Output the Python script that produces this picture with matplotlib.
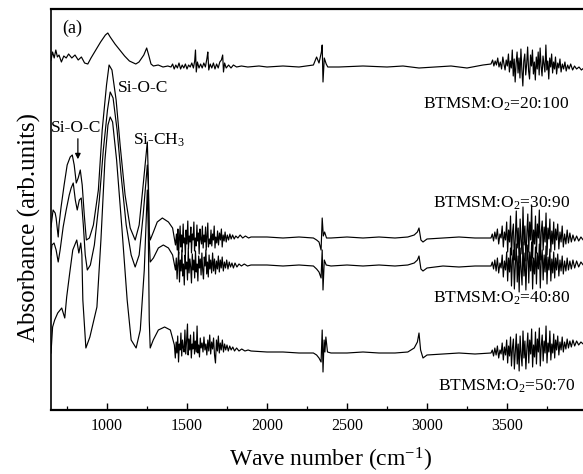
import numpy as np
import matplotlib
matplotlib.use("Agg")
import matplotlib.pyplot as plt

plt.rcParams["font.family"] = ["Liberation Serif", "DejaVu Serif"]
plt.rcParams["mathtext.fontset"] = "custom"
plt.rcParams["mathtext.rm"] = "Liberation Serif"
plt.rcParams["mathtext.it"] = "Liberation Serif:italic"

# FTIR spectra: [wave number (cm-1), absorbance incl. offset (arb. units)]
spec_20_100 = [
    [650, 350], [660, 358], [670, 352], [680, 360], [690, 353], [700, 355], [715, 348], [730, 354],
    [745, 352], [760, 356], [780, 352], [800, 355], [820, 350], [840, 353], [860, 347], [880, 346],
    [900, 352], [930, 360], [960, 368], [990, 375], [1005, 377], [1020, 373], [1050, 366], [1080, 360],
    [1110, 354], [1140, 349], [1180, 346], [1200, 348], [1230, 355], [1248, 362], [1262, 354], [1275, 346],
    [1290, 344], [1320, 345], [1350, 343], [1380, 344], [1400, 343], [1410, 346], [1420, 341], [1430, 345],
    [1440, 342], [1450, 347], [1460, 341], [1470, 345], [1480, 342], [1490, 346], [1500, 341], [1510, 345],
    [1520, 343], [1530, 347], [1540, 342], [1548, 349], [1553, 360], [1558, 338], [1565, 348], [1575, 342],
    [1585, 346], [1595, 342], [1605, 347], [1615, 343], [1625, 352], [1630, 358], [1636, 340], [1645, 346],
    [1655, 342], [1665, 347], [1675, 341], [1685, 346], [1695, 342], [1705, 348], [1715, 350], [1723, 355],
    [1728, 338], [1735, 347], [1745, 342], [1760, 345], [1775, 342], [1790, 345], [1810, 343], [1840, 344],
    [1880, 343], [1950, 344], [2000, 343], [2100, 344], [2200, 343], [2290, 345], [2310, 353], [2325, 347],
    [2340, 358], [2345, 365], [2350, 328], [2358, 352], [2370, 346], [2380, 343], [2450, 343], [2600, 344],
    [2750, 343], [2850, 344], [2950, 342], [3050, 343], [3150, 344], [3250, 342], [3350, 345], [3400, 346],
    [3410, 350], [3418, 344], [3426, 349], [3434, 345], [3442, 352], [3450, 343], [3458, 348], [3466, 341],
    [3474, 353], [3481, 346], [3488, 340], [3495, 350], [3502, 344], [3509, 356], [3515, 338], [3521, 349],
    [3527, 342], [3533, 360], [3539, 334], [3545, 351], [3551, 328], [3557, 347], [3563, 358], [3569, 337],
    [3575, 352], [3581, 332], [3587, 361], [3593, 340], [3599, 324], [3605, 349], [3611, 356], [3617, 335],
    [3623, 346], [3629, 363], [3635, 339], [3641, 331], [3647, 355], [3653, 344], [3659, 360], [3665, 336],
    [3671, 348], [3677, 330], [3683, 353], [3689, 341], [3695, 358], [3701, 335], [3707, 362], [3713, 344],
    [3719, 334], [3725, 354], [3731, 346], [3737, 338], [3743, 365], [3749, 340], [3755, 349], [3761, 331],
    [3767, 352], [3773, 343], [3779, 356], [3785, 337], [3791, 348], [3797, 341], [3803, 353], [3810, 336],
    [3817, 347], [3824, 342], [3831, 351], [3838, 338], [3846, 346], [3854, 341], [3862, 348], [3870, 339],
    [3879, 345], [3888, 341], [3898, 346], [3910, 340], [3922, 344], [3935, 341], [3950, 343], [3965, 340],
    [3980, 342], [4000, 340],
]

spec_30_90 = [
    [650, 183], [663, 200], [676, 197], [682, 192], [695, 173], [700, 185], [713, 203], [732, 225],
    [751, 245], [770, 253], [783, 255], [795, 245], [808, 227], [820, 232], [833, 240], [845, 225],
    [858, 195], [871, 170], [890, 172], [915, 185], [946, 220], [970, 280], [997, 325], [1013, 345],
    [1031, 340], [1057, 310], [1082, 265], [1113, 215], [1145, 182], [1176, 170], [1201, 185], [1226, 225],
    [1252, 268], [1258, 235], [1264, 178], [1270, 170], [1290, 178], [1314, 188], [1346, 192], [1384, 188],
    [1410, 182], [1428, 165], [1434, 176], [1439, 160], [1443, 181], [1447, 155], [1452, 170], [1457, 184],
    [1461, 163], [1466, 175], [1470, 158], [1476, 186], [1480, 167], [1485, 172], [1490, 154], [1494, 180],
    [1499, 166], [1505, 189], [1509, 161], [1514, 174], [1519, 168], [1524, 183], [1528, 157], [1533, 176],
    [1538, 170], [1543, 188], [1547, 159], [1552, 172], [1557, 164], [1562, 185], [1566, 169], [1571, 177],
    [1576, 156], [1581, 181], [1586, 171], [1591, 166], [1596, 184], [1601, 162], [1606, 175], [1611, 168],
    [1616, 183], [1620, 160], [1625, 174], [1630, 187], [1634, 163], [1640, 171], [1645, 166], [1650, 180],
    [1655, 164], [1660, 176], [1665, 170], [1670, 184], [1675, 162], [1680, 173], [1686, 167], [1691, 179],
    [1697, 165], [1703, 177], [1709, 170], [1715, 181], [1720, 163], [1726, 175], [1732, 169], [1738, 178],
    [1745, 168], [1752, 175], [1760, 170], [1768, 176], [1776, 171], [1785, 175], [1795, 171], [1805, 174],
    [1818, 172], [1832, 175], [1848, 172], [1865, 174], [1885, 172], [1900, 173], [2000, 173], [2100, 172],
    [2200, 173], [2290, 172], [2310, 170], [2325, 168], [2338, 160], [2345, 192], [2352, 174], [2360, 178],
    [2372, 172], [2400, 172], [2500, 173], [2600, 172], [2700, 173], [2800, 172], [2880, 173], [2920, 175],
    [2940, 178], [2950, 182], [2962, 170], [2975, 168], [3000, 171], [3100, 172], [3200, 173], [3300, 172],
    [3400, 172], [3408, 176], [3416, 169], [3424, 178], [3432, 171], [3440, 181], [3448, 166], [3456, 176],
    [3463, 172], [3470, 184], [3477, 163], [3484, 178], [3491, 170], [3498, 188], [3504, 158], [3510, 180],
    [3516, 168], [3522, 194], [3528, 155], [3534, 177], [3540, 186], [3546, 150], [3552, 172], [3558, 199],
    [3564, 162], [3570, 182], [3576, 147], [3582, 191], [3588, 170], [3594, 156], [3600, 203], [3606, 165],
    [3612, 184], [3618, 149], [3624, 176], [3630, 196], [3636, 158], [3642, 188], [3648, 170], [3654, 205],
    [3660, 152], [3666, 180], [3672, 166], [3678, 194], [3684, 157], [3690, 186], [3696, 172], [3702, 200],
    [3708, 150], [3714, 178], [3720, 189], [3726, 160], [3732, 183], [3738, 168], [3744, 197], [3750, 155],
    [3756, 182], [3762, 171], [3768, 191], [3774, 158], [3780, 179], [3786, 166], [3792, 188], [3798, 160],
    [3804, 181], [3810, 170], [3817, 186], [3824, 161], [3831, 178], [3838, 168], [3845, 184], [3852, 163],
    [3860, 176], [3868, 166], [3876, 180], [3884, 167], [3893, 177], [3902, 168], [3912, 175], [3923, 169],
    [3935, 174], [3948, 169], [3962, 173], [3976, 170], [3990, 172], [4000, 170],
]

spec_40_80 = [
    [650, 155], [656, 165], [669, 167], [682, 160], [695, 148], [707, 160], [726, 183], [745, 200],
    [764, 215], [776, 222], [789, 227], [802, 210], [814, 200], [827, 210], [839, 212], [852, 185],
    [864, 155], [877, 140], [896, 145], [921, 165], [952, 210], [977, 260], [1003, 300], [1020, 318],
    [1038, 312], [1063, 280], [1088, 235], [1120, 185], [1151, 155], [1176, 143], [1201, 155], [1226, 195],
    [1252, 245], [1258, 225], [1264, 170], [1270, 148], [1290, 152], [1321, 162], [1352, 165], [1384, 162],
    [1410, 155], [1428, 140], [1433, 152], [1438, 131], [1443, 147], [1448, 158], [1453, 128], [1458, 150],
    [1463, 139], [1468, 160], [1473, 134], [1478, 146], [1483, 125], [1488, 155], [1493, 141], [1498, 148],
    [1503, 130], [1508, 161], [1513, 137], [1518, 151], [1523, 143], [1528, 127], [1533, 156], [1538, 140],
    [1543, 150], [1548, 132], [1553, 159], [1558, 138], [1563, 146], [1568, 129], [1573, 154], [1578, 142],
    [1583, 151], [1588, 135], [1593, 157], [1598, 140], [1603, 131], [1608, 153], [1613, 144], [1618, 160],
    [1623, 136], [1628, 148], [1633, 133], [1638, 155], [1643, 141], [1648, 150], [1654, 137], [1660, 157],
    [1666, 139], [1672, 151], [1678, 136], [1684, 149], [1690, 141], [1696, 154], [1702, 138], [1708, 150],
    [1714, 142], [1720, 153], [1727, 139], [1734, 148], [1741, 142], [1748, 150], [1756, 141], [1764, 148],
    [1772, 143], [1781, 147], [1790, 142], [1800, 147], [1812, 143], [1825, 146], [1840, 144], [1858, 146],
    [1878, 144], [1900, 145], [2000, 145], [2100, 144], [2200, 145], [2290, 144], [2310, 141], [2325, 138],
    [2338, 132], [2345, 160], [2350, 120], [2358, 150], [2370, 145], [2400, 144], [2500, 145], [2600, 144],
    [2700, 145], [2800, 144], [2880, 145], [2920, 147], [2940, 150], [2950, 154], [2962, 141], [2975, 139],
    [3000, 142], [3100, 144], [3200, 143], [3300, 144], [3400, 144], [3408, 148], [3416, 141], [3424, 150],
    [3432, 139], [3440, 152], [3448, 137], [3456, 147], [3463, 142], [3470, 155], [3477, 133], [3484, 149],
    [3491, 140], [3498, 158], [3504, 129], [3510, 152], [3516, 138], [3522, 162], [3528, 124], [3534, 150],
    [3540, 160], [3546, 121], [3552, 145], [3558, 166], [3564, 128], [3570, 154], [3576, 118], [3582, 162],
    [3588, 140], [3594, 125], [3600, 168], [3606, 134], [3612, 157], [3618, 120], [3624, 149], [3630, 165],
    [3636, 127], [3642, 158], [3648, 139], [3654, 168], [3660, 121], [3666, 152], [3672, 136], [3678, 163],
    [3684, 126], [3690, 157], [3696, 141], [3702, 166], [3708, 122], [3714, 150], [3720, 160], [3726, 130],
    [3732, 155], [3738, 138], [3744, 164], [3750, 126], [3756, 153], [3762, 140], [3768, 161], [3774, 129],
    [3780, 151], [3786, 137], [3792, 158], [3798, 132], [3804, 152], [3810, 140], [3817, 156], [3824, 134],
    [3831, 150], [3838, 139], [3845, 154], [3852, 136], [3860, 149], [3868, 139], [3876, 152], [3884, 140],
    [3893, 149], [3902, 141], [3912, 150], [3923, 142], [3935, 149], [3948, 143], [3962, 148], [3976, 145],
    [3990, 148], [4000, 148],
]

spec_50_70 = [
    [650, 57], [660, 83], [673, 90], [692, 97], [717, 102], [736, 92], [748, 113], [767, 137],
    [786, 160], [811, 170], [824, 157], [836, 167], [843, 155], [849, 110], [868, 62], [893, 73],
    [937, 103], [962, 170], [987, 250], [1006, 285], [1020, 293], [1035, 288], [1060, 250], [1094, 180],
    [1126, 110], [1151, 70], [1182, 62], [1208, 80], [1233, 140], [1252, 220], [1258, 180], [1264, 90],
    [1270, 62], [1289, 70], [1321, 80], [1360, 83], [1396, 80], [1421, 65], [1427, 52], [1432, 68],
    [1437, 57], [1442, 74], [1447, 48], [1452, 66], [1457, 60], [1462, 77], [1467, 54], [1472, 70],
    [1477, 62], [1482, 58], [1487, 80], [1492, 56], [1497, 68], [1503, 86], [1507, 55], [1512, 71],
    [1517, 60], [1522, 75], [1527, 52], [1532, 66], [1537, 61], [1542, 78], [1547, 56], [1552, 69],
    [1558, 58], [1563, 84], [1568, 57], [1573, 65], [1578, 53], [1583, 72], [1588, 62], [1594, 67],
    [1600, 58], [1606, 73], [1612, 60], [1618, 66], [1624, 55], [1630, 70], [1636, 59], [1642, 75],
    [1648, 56], [1654, 68], [1660, 61], [1666, 72], [1672, 55], [1678, 47], [1684, 70], [1690, 59],
    [1696, 74], [1702, 57], [1708, 67], [1714, 60], [1721, 70], [1728, 58], [1735, 66], [1742, 60],
    [1750, 65], [1758, 59], [1767, 64], [1776, 60], [1786, 63], [1797, 59], [1810, 62], [1825, 59],
    [1842, 61], [1862, 59], [1882, 60], [1900, 59], [2000, 58], [2100, 58], [2200, 57], [2290, 57],
    [2310, 55], [2325, 52], [2338, 48], [2345, 80], [2350, 38], [2357, 70], [2362, 58], [2368, 73],
    [2378, 58], [2400, 57], [2500, 57], [2600, 58], [2700, 57], [2800, 57], [2880, 58], [2920, 62],
    [2940, 68], [2950, 77], [2960, 60], [2975, 52], [3000, 55], [3100, 56], [3200, 57], [3300, 56],
    [3400, 57], [3408, 60], [3416, 54], [3424, 62], [3432, 55], [3440, 64], [3448, 52], [3456, 60],
    [3463, 56], [3470, 67], [3477, 50], [3484, 63], [3491, 55], [3498, 70], [3504, 47], [3510, 64],
    [3516, 54], [3522, 73], [3528, 44], [3534, 62], [3540, 71], [3546, 41], [3552, 58], [3558, 76],
    [3564, 46], [3570, 66], [3576, 39], [3582, 74], [3588, 55], [3594, 44], [3600, 79], [3606, 52],
    [3612, 69], [3618, 41], [3624, 61], [3630, 77], [3636, 47], [3642, 70], [3648, 56], [3654, 81],
    [3660, 43], [3666, 65], [3672, 53], [3678, 78], [3684, 46], [3690, 71], [3696, 58], [3702, 82],
    [3708, 44], [3714, 64], [3720, 75], [3726, 49], [3732, 69], [3738, 57], [3744, 84], [3750, 47],
    [3756, 67], [3762, 58], [3768, 79], [3774, 50], [3780, 66], [3786, 57], [3792, 76], [3798, 52],
    [3804, 70], [3810, 60], [3817, 74], [3824, 55], [3831, 68], [3838, 60], [3845, 73], [3852, 58],
    [3860, 68], [3868, 61], [3876, 71], [3884, 62], [3893, 69], [3902, 63], [3912, 70], [3923, 64],
    [3935, 69], [3948, 65], [3962, 68], [3976, 66], [3990, 68], [4000, 67],
]

spectra = [spec_20_100, spec_30_90, spec_40_80, spec_50_70]
ratio_labels = ["20:100", "30:90", "40:80", "50:70"]
major_ticks = [1000, 1500, 2000, 2500, 3000, 3500]
minor_ticks = [750, 1250, 1750, 2250, 2750, 3250, 3750]


def px(x, y):
    # pixel position in the 583x474 canvas -> figure fraction
    return x / 583.0, 1.0 - y / 474.0


fig = plt.figure(figsize=(5.83, 4.74), dpi=100)
ax = fig.add_axes([51 / 583, 1 - 410 / 474, 536 / 583, 401 / 474])

for spec in spectra:
    data = np.array(spec, dtype=float)
    ax.plot(data[:, 0], data[:, 1], color="black", lw=0.85)

ax.set_xlim(650, 4000)
ax.set_ylim(0, 401)
ax.set_xticks(major_ticks)
ax.set_xticks(minor_ticks, minor=True)
ax.set_yticks([])
ax.tick_params(axis="x", which="major", direction="in", length=5, width=1.0, labelsize=11.5, pad=6)
ax.tick_params(axis="x", which="minor", direction="in", length=3, width=0.9)
ax.spines["top"].set_linewidth(1.6)
ax.spines["bottom"].set_linewidth(1.6)
ax.spines["left"].set_linewidth(1.2)
ax.spines["right"].set_visible(False)

fig.text(*px(331, 460), "Wave number (cm$^{-1}$)", fontsize=17, ha="center", va="center")
fig.text(*px(29, 227), "Absorbance (arb.units)", fontsize=18, ha="center", va="center", rotation=90)

fig.text(*px(62, 28), "(a)", fontsize=13, ha="left", va="center")
fig.text(*px(118, 88), "Si-O-C", fontsize=12.5, ha="left", va="center")
fig.text(*px(51, 128), "Si-O-C", fontsize=12.5, ha="left", va="center")
fig.text(*px(133, 140), "Si-CH$_3$", fontsize=12.5, ha="left", va="center")
ax.annotate("", xy=(818, 248), xytext=(818, 274),
            arrowprops=dict(arrowstyle="-|>", color="black", lw=0.9, mutation_scale=8))

label_pos = [(423, 104), (433, 203), (433, 298), (438, 386)]
for ratio, (lx, ly) in zip(ratio_labels, label_pos):
    fig.text(*px(lx, ly), "BTMSM:O$_2$=" + ratio, fontsize=12.5, ha="left", va="center")

fig.savefig("out.png", dpi=100)
